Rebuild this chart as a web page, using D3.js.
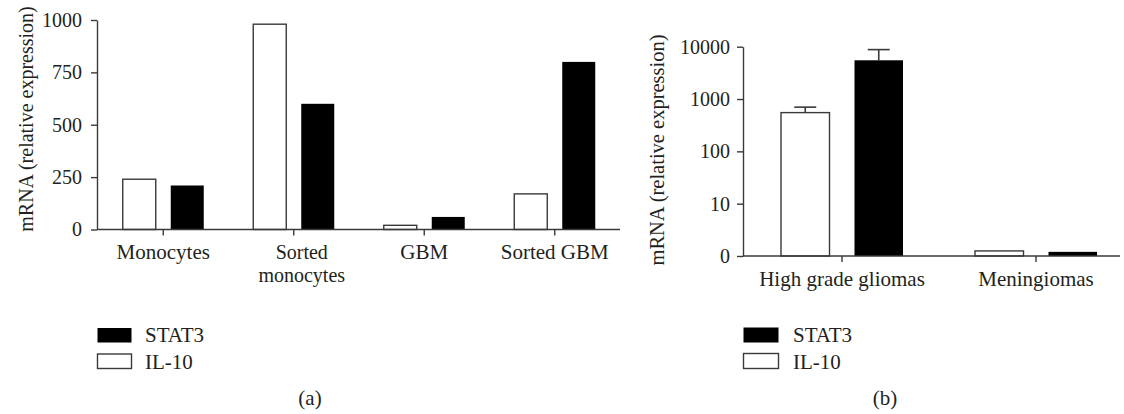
<!DOCTYPE html>
<html><head><meta charset="utf-8">
<script src="https://cdn.jsdelivr.net/npm/d3@7"></script>
<style>
html,body{margin:0;padding:0;background:#fff;}
svg text{font-family:"Liberation Serif","Times New Roman",serif;fill:#231f20;}
</style></head>
<body>
<svg id="chart" width="1124" height="414"></svg>
<script>
// ---- data (a) ----
const categoriesA = ["Monocytes", "Sorted\nmonocytes", "GBM", "Sorted GBM"];
const il10A = [240, 980, 20, 170];
const stat3A = [210, 600, 60, 800];
const yTicksA = [0, 250, 500, 750, 1000];
// ---- data (b) ----
const categoriesB = ["High grade gliomas", "Meningiomas"];
const il10B = [550, 1.25];
const stat3B = [5500, 1.2];
const il10ErrB = [700, null];
const stat3ErrB = [8800, null];
const yTicksB = [1, 10, 100, 1000, 10000];
const yTickLabelsB = ["0", "10", "100", "1000", "10000"];
const seriesNames = ["IL-10", "STAT3"];
const legendOrder = ["STAT3", "IL-10"];

const svg = d3.select("#chart");
const axisColor = "#3a3a3a";
const fontSize = "21px";
const tickFont = "20px";
const colorOf = {"IL-10": "#ffffff", "STAT3": "#000000"};

function styleAxis(g){
  g.attr("font-family", null);
  g.selectAll("path,line").attr("stroke", axisColor).attr("stroke-width", 1.4);
  g.selectAll("text").style("font-size", tickFont).attr("fill", "#231f20");
}

// ================= Panel (a) =================
(function(){
  const x0 = 97, x1 = 620, yTop = 20, yBot = 229.5;
  const x = d3.scaleBand().domain(categoriesA).range([x0 + 1, x1]).padding(0);
  const sub = d3.scaleBand().domain(seriesNames).range([-40.5, 40.5]).paddingInner(0.3125).paddingOuter(0);
  const y = d3.scaleLinear().domain([0, 1000]).range([yBot, yTop]);
  const g = svg.append("g");

  const rows = categoriesA.map((c, i) => ({cat: c, vals: [{s: "IL-10", v: il10A[i]}, {s: "STAT3", v: stat3A[i]}]}));
  const grp = g.selectAll("g.grp").data(rows).join("g")
    .attr("transform", d => `translate(${x(d.cat) + x.bandwidth() / 2},0)`);
  grp.selectAll("rect").data(d => d.vals).join("rect")
    .attr("x", d => sub(d.s))
    .attr("width", sub.bandwidth())
    .attr("y", d => y(d.v))
    .attr("height", d => y(0) - y(d.v))
    .attr("fill", d => colorOf[d.s])
    .attr("stroke", d => d.s === "IL-10" ? axisColor : "none")
    .attr("stroke-width", 1.4);

  // y axis
  const ya = g.append("g").attr("transform", `translate(${x0},0)`)
    .call(d3.axisLeft(y).tickValues(yTicksA).tickFormat(d3.format("d"))
      .tickSize(6).tickPadding(9).tickSizeOuter(0));
  styleAxis(ya);

  // x axis
  const xa = g.append("g").attr("transform", `translate(0,${yBot})`)
    .call(d3.axisBottom(x).tickSize(6).tickSizeOuter(0).tickFormat(""));
  xa.select(".domain").remove();
  styleAxis(xa);
  g.append("line").attr("x1", x0).attr("x2", x1).attr("y1", yBot).attr("y2", yBot)
    .attr("stroke", axisColor).attr("stroke-width", 1.4);

  // category labels
  categoriesA.forEach(c => {
    const lines = c.split("\n");
    const t = g.append("text").attr("text-anchor", "middle")
      .style("font-size", lines.length > 1 ? "20px" : fontSize)
      .attr("transform", `translate(${x(c) + x.bandwidth() / 2 + (lines.length > 1 ? 8 : 0)},259)`);
    lines.forEach((l, i) => t.append("tspan").attr("x", 0).attr("dy", i === 0 ? 0 : 22.5).text(l));
  });

  // y label
  g.append("text").attr("text-anchor", "middle").style("font-size", "20px")
    .attr("transform", `translate(33,119) rotate(-90)`).text("mRNA (relative expression)");

  // legend
  const lg = g.append("g");
  legendOrder.forEach((s, i) => {
    lg.append("rect").attr("x", 97.5).attr("y", 328 + i * 26).attr("width", 34).attr("height", 14.5)
      .attr("fill", colorOf[s]).attr("stroke", s === "IL-10" ? axisColor : "none").attr("stroke-width", 1.4);
    lg.append("text").attr("x", 145).attr("y", 342 + i * 27).style("font-size", fontSize).text(s);
  });
  g.append("text").attr("x", 310).attr("y", 405).attr("text-anchor", "middle").style("font-size", fontSize).text("(a)");
})();

// ================= Panel (b) =================
(function(){
  const x0 = 743, x1 = 1120, yTop = 46.7, yBot = 256;
  const x = d3.scaleBand().domain(categoriesB).range([745, 1133]).padding(0);
  const sub = d3.scaleBand().domain(seriesNames).range([-61, 61]).paddingInner(0.34).paddingOuter(0);
  const y = d3.scaleLog().domain([1, 10000]).range([yBot, yTop]);
  const g = svg.append("g");

  const rows = categoriesB.map((c, i) => ({cat: c, vals: [
    {s: "IL-10", v: il10B[i], e: il10ErrB[i]},
    {s: "STAT3", v: stat3B[i], e: stat3ErrB[i]}]}));
  const grp = g.selectAll("g.grp").data(rows).join("g")
    .attr("transform", d => `translate(${x(d.cat) + x.bandwidth() / 2},0)`);

  // error bars
  const eb = grp.selectAll("g.err").data(d => d.vals.filter(v => v.e != null)).join("g");
  eb.append("line")
    .attr("x1", d => sub(d.s) + sub.bandwidth() / 2).attr("x2", d => sub(d.s) + sub.bandwidth() / 2)
    .attr("y1", d => y(d.v)).attr("y2", d => y(d.e))
    .attr("stroke", axisColor).attr("stroke-width", 1.6);
  eb.append("line")
    .attr("x1", d => sub(d.s) + sub.bandwidth() / 2 - 11).attr("x2", d => sub(d.s) + sub.bandwidth() / 2 + 11)
    .attr("y1", d => y(d.e)).attr("y2", d => y(d.e))
    .attr("stroke", axisColor).attr("stroke-width", 1.6);

  grp.selectAll("rect").data(d => d.vals).join("rect")
    .attr("x", d => sub(d.s))
    .attr("width", sub.bandwidth())
    .attr("y", d => y(d.v))
    .attr("height", d => y(1) - y(d.v))
    .attr("fill", d => colorOf[d.s])
    .attr("stroke", d => d.s === "IL-10" ? axisColor : "none")
    .attr("stroke-width", 1.4);

  const ya = g.append("g").attr("transform", `translate(${x0},0)`)
    .call(d3.axisLeft(y).tickValues(yTicksB).tickFormat((d, i) => yTickLabelsB[i])
      .tickSize(6).tickPadding(7).tickSizeOuter(0));
  styleAxis(ya);

  const xa = g.append("g").attr("transform", `translate(0,${yBot})`)
    .call(d3.axisBottom(x).tickSize(6).tickSizeOuter(0).tickPadding(8));
  xa.select(".domain").remove();
  styleAxis(xa);
  xa.selectAll("text").attr("dy", null).attr("y", 30).style("font-size", fontSize);
  g.append("line").attr("x1", x0).attr("x2", x1).attr("y1", yBot).attr("y2", yBot)
    .attr("stroke", axisColor).attr("stroke-width", 1.4);

  g.append("text").attr("text-anchor", "middle").style("font-size", "20.5px")
    .attr("transform", `translate(664,150) rotate(-90)`).text("mRNA (relative expression)");

  const lg = g.append("g");
  legendOrder.forEach((s, i) => {
    lg.append("rect").attr("x", 743.5).attr("y", 327.5 + i * 26).attr("width", 35).attr("height", 15)
      .attr("fill", colorOf[s]).attr("stroke", s === "IL-10" ? axisColor : "none").attr("stroke-width", 1.4);
    lg.append("text").attr("x", 793).attr("y", 342 + i * 27).style("font-size", fontSize).text(s);
  });
  g.append("text").attr("x", 885).attr("y", 405).attr("text-anchor", "middle").style("font-size", fontSize).text("(b)");
})();
</script>
</body></html>
